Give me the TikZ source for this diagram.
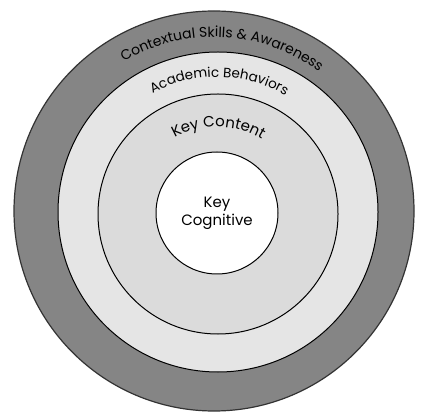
\documentclass[tikz,border=0pt]{standalone}
\usepackage{fontspec}
\setmainfont{Poppins}
\usetikzlibrary{decorations.text}
\begin{document}
\begin{tikzpicture}[x=1pt,y=1pt,
  ringline/.style={draw=black, line width=1pt},
  arctext/.style={decorate, decoration={text along path, text align=center}}]
\useasboundingbox (0,0) rectangle (422,412);
\fill[white] (0,0) rectangle (422,412);
\coordinate (co) at (214,201);
\coordinate (ci) at (217,199);
% outer dark ring
\fill[black!48, draw=black!80, line width=1.2pt] (co) circle[radius=200];
% academic behaviors ring
\fill[black!10] (218,200) circle[radius=160];
\draw[ringline] (218,200) circle[radius=160];
% key content ring
\fill[black!14] (218,198) circle[radius=120];
\draw[ringline] (218,198) circle[radius=120];
% key cognitive
\node[circle, fill=white, draw=black, line width=1pt, minimum size=122pt, inner sep=0pt,
      align=center, font=\fontsize{15}{18}\selectfont] (kc) at (ci) {Key\\Cognitive};
% curved labels
\path[arctext, decoration={text={|\fontsize{14}{14}\selectfont|Contextual Skills {\&} Awareness}}]
  (co) ++(150:174) arc[start angle=150, end angle=24, radius=174];
\path[arctext, decoration={text={|\fontsize{13.5}{14}\selectfont|Academic Behaviors}}]
  (ci) ++(150:136) arc[start angle=150, end angle=28, radius=136];
\path[arctext, decoration={text={|\fontsize{15}{15}\selectfont|Key Content}}]
  (ci) ++(150:86) arc[start angle=150, end angle=28, radius=86];
\end{tikzpicture}
\end{document}
